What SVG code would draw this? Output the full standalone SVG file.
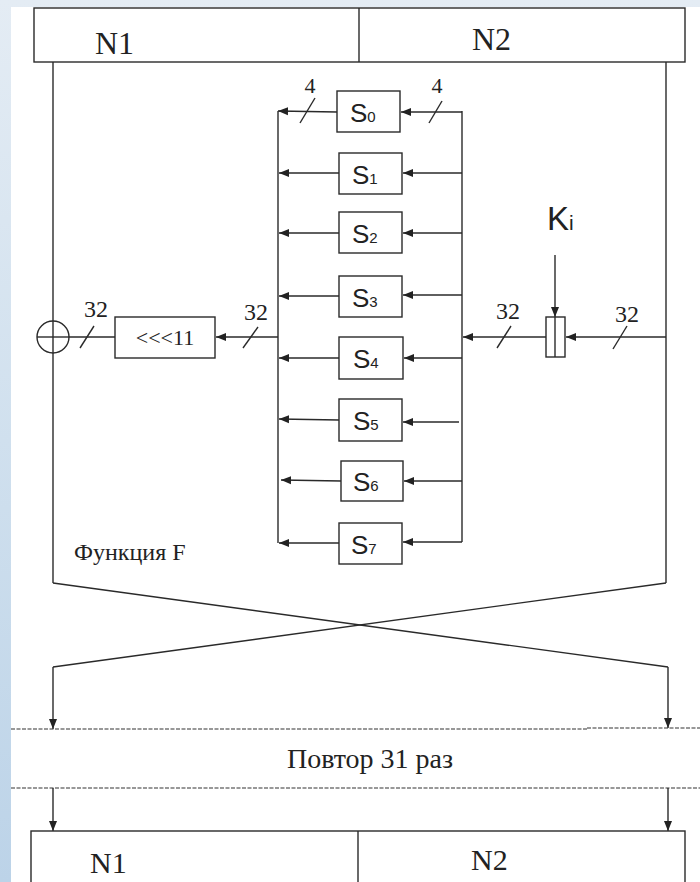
<svg xmlns="http://www.w3.org/2000/svg" width="700" height="882" viewBox="0 0 700 882">
<defs>
<linearGradient id="bg" x1="0" y1="0" x2="0" y2="1">
<stop offset="0" stop-color="#e4ecf4"/>
<stop offset="0.5" stop-color="#d0e0ee"/>
<stop offset="1" stop-color="#bcd3e8"/>
</linearGradient>
<marker id="ah" viewBox="0 0 10 10" refX="10" refY="5" markerWidth="10" markerHeight="10" markerUnits="userSpaceOnUse" orient="auto">
<path d="M0,1 L10,5 L0,9 Z" fill="#222"/>
</marker>
</defs>
<style>
.ln{stroke:#2a2a2a;stroke-width:1.4;fill:none}
.bx{stroke:#2a2a2a;stroke-width:1.4;fill:#fff}
.ar{stroke:#2a2a2a;stroke-width:1.4;fill:none;marker-end:url(#ah)}
.dash{stroke:#333;stroke-width:1.1;stroke-dasharray:4,1.5;fill:none}
.serif{font-family:"Liberation Serif","Times New Roman",serif;fill:#222}
.sans{font-family:"Liberation Sans",Arial,sans-serif;fill:#222}
.sl{font-size:26px}
.sub{font-size:15px}
</style>
<rect x="0" y="0" width="700" height="882" fill="url(#bg)"/>
<rect x="11" y="7" width="689" height="875" fill="#fff"/>

<g id="top-block">
<rect class="bx" x="34" y="8" width="651" height="54"/>
<line class="ln" x1="359" y1="8" x2="359" y2="62"/>
<text class="serif" x="95" y="54" font-size="32">N1</text>
<text class="serif" x="472" y="50" font-size="32">N2</text>
</g>

<g id="S0"><rect class="bx" x="337" y="91" width="63" height="41"/><text class="sans sl" x="350" y="122">S<tspan class="sub">0</tspan></text></g>
<g id="S1"><rect class="bx" x="339" y="153" width="63" height="41"/><text class="sans sl" x="352" y="184">S<tspan class="sub">1</tspan></text></g>
<g id="S2"><rect class="bx" x="339" y="212" width="63" height="41"/><text class="sans sl" x="352" y="243">S<tspan class="sub">2</tspan></text></g>
<g id="S3"><rect class="bx" x="339" y="276" width="63" height="41"/><text class="sans sl" x="352" y="307">S<tspan class="sub">3</tspan></text></g>
<g id="S4"><rect class="bx" x="339" y="337" width="64" height="42"/><text class="sans sl" x="353" y="368">S<tspan class="sub">4</tspan></text></g>
<g id="S5"><rect class="bx" x="339" y="399" width="63" height="42"/><text class="sans sl" x="353" y="430">S<tspan class="sub">5</tspan></text></g>
<g id="S6"><rect class="bx" x="341" y="461" width="62" height="40"/><text class="sans sl" x="353" y="491">S<tspan class="sub">6</tspan></text></g>
<g id="S7"><rect class="bx" x="339" y="523" width="63" height="41"/><text class="sans sl" x="351" y="554">S<tspan class="sub">7</tspan></text></g>

<g id="rotate"><rect class="bx" x="115" y="317" width="100" height="41"/><text class="serif" x="165" y="345" font-size="22" text-anchor="middle">&lt;&lt;&lt;11</text></g>

<g id="xor"><circle class="ln" cx="53" cy="337" r="16" fill="#fff"/><line class="ln" x1="37" y1="337" x2="69" y2="337"/></g>

<g id="adder"><rect class="bx" x="546" y="317" width="19" height="40"/><line class="ln" x1="555" y1="317" x2="555" y2="357"/></g>

<g id="Ki"><text class="sans" x="547" y="230" font-size="33">K<tspan font-size="21">i</tspan></text></g>

<g id="func-label"><text class="serif" x="74" y="560" font-size="24">Функция F</text></g>

<g id="connectors">
<line class="ln" x1="53" y1="62" x2="53" y2="583"/>
<line class="ln" x1="666" y1="62" x2="666" y2="583"/>
<line class="ln" x1="278" y1="111" x2="278" y2="543"/>
<line class="ln" x1="462" y1="111" x2="462" y2="542"/>
<line class="ar" x1="337" y1="112" x2="278" y2="111"/>
<line class="ar" x1="339" y1="173" x2="279" y2="173"/>
<line class="ar" x1="339" y1="233" x2="279" y2="233"/>
<line class="ar" x1="339" y1="296" x2="279" y2="296"/>
<line class="ar" x1="339" y1="358" x2="279" y2="358"/>
<line class="ar" x1="339" y1="420" x2="279" y2="419"/>
<line class="ar" x1="341" y1="481" x2="281" y2="480"/>
<line class="ar" x1="339" y1="543" x2="279" y2="543"/>
<line class="ar" x1="462" y1="112" x2="401" y2="112"/>
<line class="ar" x1="462" y1="173" x2="403" y2="173"/>
<line class="ar" x1="462" y1="233" x2="403" y2="233"/>
<line class="ar" x1="462" y1="295" x2="403" y2="295"/>
<line class="ar" x1="462" y1="358" x2="404" y2="358"/>
<line class="ar" x1="459" y1="422" x2="403" y2="422"/>
<line class="ar" x1="462" y1="481" x2="404" y2="481"/>
<line class="ar" x1="462" y1="542" x2="403" y2="542"/>
<line class="ln" x1="315" y1="98" x2="300" y2="123"/>
<line class="ln" x1="442" y1="101" x2="429" y2="123"/>
<text class="serif" x="310" y="93" font-size="22" text-anchor="middle">4</text>
<text class="serif" x="437" y="93" font-size="22" text-anchor="middle">4</text>
<line class="ar" x1="278" y1="337" x2="216" y2="337"/>
<line class="ln" x1="115" y1="337" x2="69" y2="337"/>
<line class="ln" x1="94" y1="326" x2="80" y2="348"/>
<line class="ln" x1="258" y1="327" x2="243" y2="348"/>
<text class="serif" x="96" y="317" font-size="24" text-anchor="middle">32</text>
<text class="serif" x="256" y="320" font-size="24" text-anchor="middle">32</text>
<line class="ar" x1="666" y1="337" x2="566" y2="337"/>
<line class="ar" x1="546" y1="337" x2="463" y2="337"/>
<line class="ar" x1="555" y1="255" x2="555" y2="317"/>
<line class="ln" x1="511" y1="326" x2="497" y2="348"/>
<line class="ln" x1="627" y1="326" x2="613" y2="349"/>
<text class="serif" x="508" y="319" font-size="24" text-anchor="middle">32</text>
<text class="serif" x="627" y="322" font-size="24" text-anchor="middle">32</text>
<line class="ln" x1="53" y1="583" x2="668" y2="667"/>
<line class="ln" x1="666" y1="583" x2="53" y2="667"/>
<line class="ar" x1="53" y1="667" x2="53" y2="729"/>
<line class="ar" x1="668" y1="667" x2="668" y2="728"/>
<line class="dash" x1="11" y1="729" x2="587" y2="729"/>
<line class="dash" x1="587" y1="728" x2="700" y2="728"/>
<line class="dash" x1="11" y1="788" x2="700" y2="788"/>
<line class="ar" x1="53" y1="788" x2="53" y2="831"/>
<line class="ar" x1="668" y1="788" x2="668" y2="831"/>
</g>

<g id="repeat-label"><text class="serif" x="370" y="768" font-size="28" text-anchor="middle">Повтор 31 раз</text></g>

<g id="bottom-block">
<rect class="bx" x="31" y="831" width="654" height="70"/>
<line class="ln" x1="358" y1="831" x2="358" y2="882"/>
<text class="serif" x="90" y="873" font-size="30">N1</text>
<text class="serif" x="471" y="870" font-size="30">N2</text>
</g>
</svg>
